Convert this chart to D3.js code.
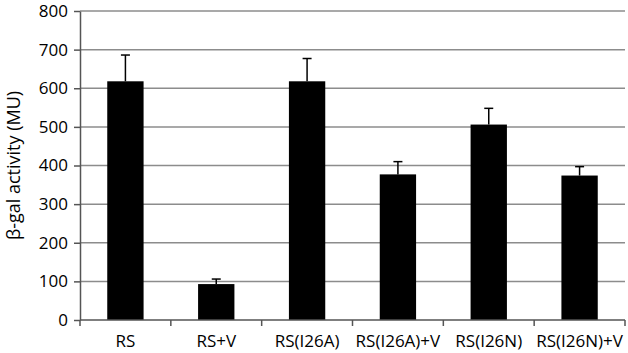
<!DOCTYPE html>
<html>
<head>
<meta charset="utf-8">
<script src="https://cdnjs.cloudflare.com/ajax/libs/d3/7.8.5/d3.min.js"></script>
<style>
  body { margin: 0; background: #fff; }
  text { font-family: "Open Sans", "Liberation Sans", sans-serif; }
</style>
</head>
<body>
<div id="chart"></div>
<script>
// bar data
const categories = ["RS", "RS+V", "RS(I26A)", "RS(I26A)+V", "RS(I26N)", "RS(I26N)+V"];
const means = [618, 93, 618, 377, 506, 374];
const errors = [68, 13, 59, 33, 42, 23];
const yTicks = [0, 100, 200, 300, 400, 500, 600, 700, 800];

const width = 628, height = 353;
const margin = { top: 11, right: 3, bottom: 33, left: 80 };

const svg = d3.select('#chart')
    .append('svg')
    .attr('width', width)
    .attr('height', height);

const x = d3.scaleBand()
    .domain(categories)
    .range([margin.left, width - margin.right])
    .paddingInner(0.6)
    .paddingOuter(0.3);

// band edges for the x ticks
const xEdge = d3.scaleLinear()
    .domain([0, categories.length])
    .range([margin.left, width - margin.right]);

const y = d3.scaleLinear()
    .domain([0, 800])
    .range([height - margin.bottom, margin.top]);

// gridlines
svg.append('g')
    .selectAll('line')
    .data(yTicks.filter(d => d > 0))
    .join('line')
    .attr('x1', margin.left)
    .attr('x2', width - margin.right)
    .attr('y1', d => y(d))
    .attr('y2', d => y(d))
    .attr('stroke', '#8c8c8c')
    .attr('stroke-width', 1.5);

// bars
svg.append('g')
    .selectAll('rect')
    .data(categories)
    .join('rect')
    .attr('x', d => x(d))
    .attr('width', x.bandwidth())
    .attr('y', (d, i) => y(means[i]))
    .attr('height', (d, i) => y(0) - y(means[i]))
    .attr('fill', '#000');

// error bars (upper only)
const err = svg.append('g')
    .attr('stroke', '#000')
    .attr('stroke-width', 1.5);

err.selectAll('line.stem')
    .data(categories)
    .join('line')
    .attr('class', 'stem')
    .attr('x1', d => x(d) + x.bandwidth() / 2)
    .attr('x2', d => x(d) + x.bandwidth() / 2)
    .attr('y1', (d, i) => y(means[i]))
    .attr('y2', (d, i) => y(means[i] + errors[i]));

err.selectAll('line.cap')
    .data(categories)
    .join('line')
    .attr('class', 'cap')
    .attr('x1', d => x(d) + x.bandwidth() / 2 - 4.5)
    .attr('x2', d => x(d) + x.bandwidth() / 2 + 4.5)
    .attr('y1', (d, i) => y(means[i] + errors[i]))
    .attr('y2', (d, i) => y(means[i] + errors[i]));

// y axis
const yAxis = svg.append('g')
    .attr('transform', `translate(${margin.left},0)`)
    .call(d3.axisLeft(y).tickValues(yTicks).tickSize(6).tickPadding(6).tickSizeOuter(0));
yAxis.select('.domain').attr('stroke', '#555').attr('stroke-width', 1.5);
yAxis.selectAll('.tick line').attr('stroke', '#555').attr('stroke-width', 1.5);
yAxis.selectAll('.tick text')
    .attr('font-size', 17)
    .attr('fill', '#000')
    .style('font-family', '"Open Sans", "Liberation Sans", sans-serif');

// x axis: baseline with ticks at band edges
const xAxis = svg.append('g')
    .attr('transform', `translate(0,${y(0)})`);
xAxis.append('line')
    .attr('x1', margin.left)
    .attr('x2', width - margin.right)
    .attr('stroke', '#555')
    .attr('stroke-width', 1.5);
xAxis.selectAll('line.tick')
    .data(d3.range(categories.length + 1))
    .join('line')
    .attr('class', 'tick')
    .attr('x1', d => xEdge(d))
    .attr('x2', d => xEdge(d))
    .attr('y1', 0)
    .attr('y2', 6)
    .attr('stroke', '#555')
    .attr('stroke-width', 1.5);
xAxis.selectAll('text')
    .data(categories)
    .join('text')
    .attr('x', d => x(d) + x.bandwidth() / 2)
    .attr('y', 27)
    .attr('text-anchor', 'middle')
    .attr('font-size', 17)
    .attr('fill', '#000')
    .text(d => d);

// y axis title
svg.append('text')
    .attr('transform', `translate(20,${(y(0) + y(800)) / 2}) rotate(-90)`)
    .attr('text-anchor', 'middle')
    .attr('font-size', 18)
    .attr('fill', '#000')
    .text('β-gal activity (MU)');
</script>
</body>
</html>
